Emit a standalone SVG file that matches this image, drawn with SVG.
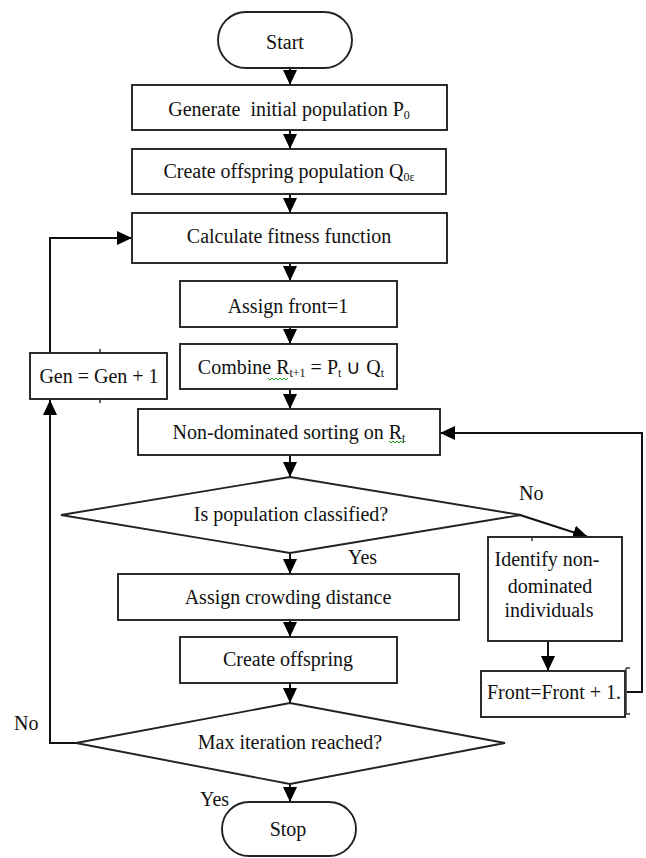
<svg xmlns="http://www.w3.org/2000/svg" width="646" height="858" viewBox="0 0 646 858">
<defs>
<style>
.n{fill:#fff;stroke:#222;stroke-width:1.9}
.t{font-family:"Liberation Serif","Times New Roman",serif;font-size:20px;fill:#111;text-anchor:middle}
.l{font-family:"Liberation Serif","Times New Roman",serif;font-size:20px;fill:#111}
.sub{font-size:12px}
.c{fill:none;stroke:#111;stroke-width:2}
.tk{fill:none;stroke:#333;stroke-width:1.5}
.sq{fill:none;stroke:#1a9a1a;stroke-width:1}
</style>
<marker id="ah" markerUnits="userSpaceOnUse" markerWidth="16" markerHeight="16" refX="15" refY="7" orient="auto">
<path d="M0,0 L15,7 L0,14 z" fill="#000"/>
</marker>
</defs>
<rect width="646" height="858" fill="#fff"/>

<g id="connectors">
<path class="c" d="M290,68 V85" marker-end="url(#ah)"/>
<path class="c" d="M290,130 V149" marker-end="url(#ah)"/>
<path class="c" d="M290,194 V213" marker-end="url(#ah)"/>
<path class="c" d="M290,263 V281" marker-end="url(#ah)"/>
<path class="c" d="M290,327 V344" marker-end="url(#ah)"/>
<path class="c" d="M290,389 V409" marker-end="url(#ah)"/>
<path class="c" d="M290,455 V477" marker-end="url(#ah)"/>
<path class="c" d="M290,553 V574" marker-end="url(#ah)"/>
<path class="c" d="M290,620 V637" marker-end="url(#ah)"/>
<path class="c" d="M290,683 V703" marker-end="url(#ah)"/>
<path class="c" d="M290,784 V802" marker-end="url(#ah)"/>
<path class="c" d="M76,743 H50 V400" marker-end="url(#ah)"/>
<path class="c" d="M50,353 V238 H132" marker-end="url(#ah)"/>
<path class="c" d="M520,515 L588,537" marker-end="url(#ah)"/>
<path class="c" d="M548,641 V671" marker-end="url(#ah)"/>
<path class="c" d="M627,692 H642 V433 H440" marker-end="url(#ah)"/>
</g>

<g id="start">
<rect class="n" x="218" y="12" width="134" height="56" rx="28"/>
<text class="t" x="285" y="49">Start</text>
</g>

<g id="generate">
<rect class="n" x="132" y="85" width="315" height="45"/>
<text class="t" x="289" y="116" style="white-space:pre">Generate  initial population P<tspan class="sub" dy="3">0</tspan></text>
</g>

<g id="create-pop">
<rect class="n" x="132" y="149" width="314" height="45"/>
<text class="t" x="289" y="178">Create offspring population Q<tspan class="sub" dy="3">0ε</tspan></text>
</g>

<g id="fitness">
<rect class="n" x="132" y="213" width="315" height="50"/>
<text class="t" x="289" y="243">Calculate fitness function</text>
</g>

<g id="assign-front">
<rect class="n" x="180" y="281" width="217" height="46"/>
<text class="t" x="288" y="313">Assign front=1</text>
</g>

<g id="combine">
<rect class="n" x="180" y="344" width="217" height="45"/>
<text class="t" x="291" y="374">Combine R<tspan class="sub" dy="3">t+1</tspan><tspan dy="-3"> = P</tspan><tspan class="sub" dy="3">t</tspan><tspan dy="-3"> ∪ Q</tspan><tspan class="sub" dy="3">t</tspan></text>
<path class="sq" d="M268,378 l2,2 l2,-2 l2,2 l2,-2 l2,2 l2,-2 l2,2 l2,-2 l2,2 l2,-2"/>
</g>

<g id="gen">
<rect class="n" x="30" y="353" width="137" height="46"/>
<path class="tk" d="M100,349 V353 M100,399 V403"/>
<text class="t" x="99" y="383">Gen = Gen + 1</text>
</g>

<g id="sorting">
<rect class="n" x="138" y="409" width="302" height="46"/>
<text class="t" x="289" y="439">Non-dominated sorting on R<tspan class="sub" dy="3">t</tspan></text>
<path class="sq" d="M389,441 l2,2 l2,-2 l2,2 l2,-2 l2,2 l2,-2 l2,2 l2,-2"/>
</g>

<g id="classified">
<path class="n" d="M61,515 L290,477 L521,515 L290,553 Z"/>
<text class="t" x="291" y="521">Is population classified?</text>
<text class="l" x="519" y="500">No</text>
<text class="l" x="348" y="564">Yes</text>
</g>

<g id="identify">
<rect class="n" x="488" y="537" width="134" height="104"/>
<path class="tk" d="M532,537 V541"/>
<text class="t" x="547" y="566">Identify non-</text>
<text class="t" x="550" y="593">dominated</text>
<text class="t" x="549" y="617">individuals</text>
</g>

<g id="crowding">
<rect class="n" x="118" y="574" width="341" height="46"/>
<text class="t" x="288" y="604">Assign crowding distance</text>
</g>

<g id="create-offspring">
<rect class="n" x="180" y="637" width="217" height="46"/>
<text class="t" x="288" y="666">Create offspring</text>
</g>

<g id="front-inc">
<rect class="n" x="481" y="671" width="144" height="46"/>
<path class="tk" d="M626,668 V714 M626,668 H630 M626,714 H630"/>
<text class="t" x="554" y="699">Front=Front + 1.</text>
</g>

<g id="max-iter">
<path class="n" d="M76,743 L290,703 L505,743 L290,784 Z"/>
<text class="t" x="290" y="749">Max iteration reached?</text>
<text class="l" x="14" y="730">No</text>
<text class="l" x="200" y="806">Yes</text>
</g>

<g id="stop">
<rect class="n" x="222" y="802" width="134" height="54" rx="27"/>
<text class="t" x="288" y="836">Stop</text>
</g>
</svg>
